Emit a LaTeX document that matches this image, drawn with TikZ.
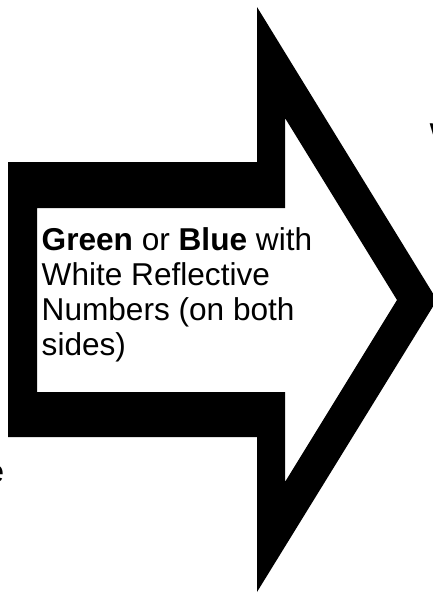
\documentclass[tikz,border=0pt]{standalone}
\usepackage{fontspec}
\setmainfont{Liberation Sans}
\begin{document}
\begin{tikzpicture}[x=1pt, y=-1pt,
  txt/.style={inner sep=0pt, font=\fontsize{31.6}{35}\selectfont, align=left}]
  \useasboundingbox (0,0) rectangle (433,595);
  \clip (0,0) rectangle (433,595);

  % arrow outline, inside cut out
  \fill[black, even odd rule]
    (8,162) -- (257,162) -- (257,7) -- (437,300) -- (257,592) -- (257,437) -- (8,437) -- cycle
    (37,208) -- (285,208) -- (285,118) -- (397,300) -- (285,482) -- (285,392) -- (37,392) -- cycle;

  % base anchor sits on the last line
  \node[txt, anchor=base west] (label) at (41.5,355)
    {\textbf{Green} or \textbf{Blue} with\\White Reflective\\Numbers (on both\\sides)};

  % words cut off at the edges
  \node[txt, anchor=base west] (fragW) at (429.5,145) {W};
  \node[txt, anchor=base east] (fragE) at (4.5,482) {e};
\end{tikzpicture}
\end{document}
